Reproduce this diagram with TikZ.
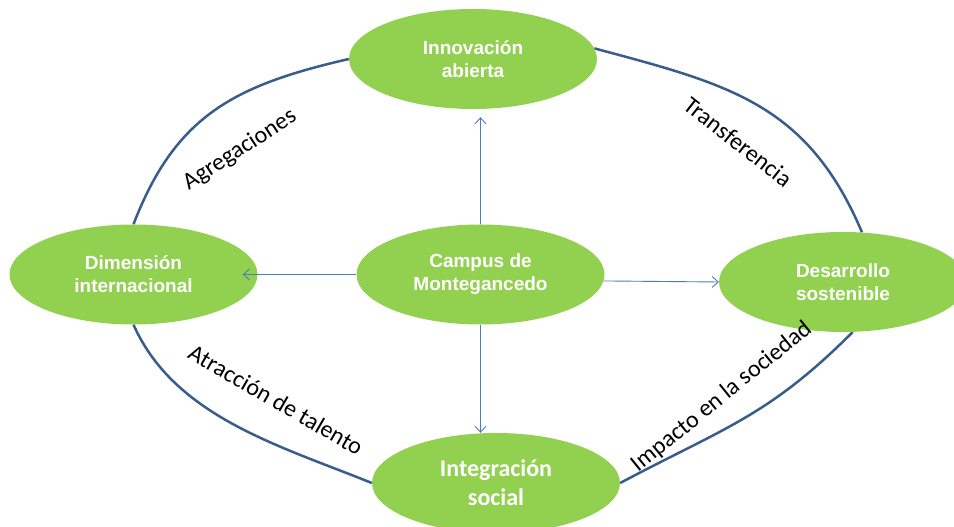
\documentclass[tikz,border=0pt]{standalone}
\usepackage{fontspec}
\setmainfont{Liberation Sans}
\newfontfamily\calibrifont{Carlito}
\usepackage{tikz}
\usepackage{xcolor}
\usetikzlibrary{arrows.meta}
\usetikzlibrary{shapes,backgrounds}
\definecolor{leafgreen}{HTML}{92D050}
\definecolor{ringblue}{HTML}{385D8A}
\definecolor{linkblue}{HTML}{4A7EBB}

\begin{document}
\begin{tikzpicture}[x=1pt,y=1pt,>={Straight Barb[length=6pt,width=11pt]},
                    main node/.style={ellipse,fill=leafgreen,text=white,align=center,inner sep=0pt,
                      minimum width=248pt,minimum height=100pt,
                      font=\bfseries\fontsize{19}{22.8}\selectfont},
                    ring/.style={draw=ringblue,line width=2.5pt,looseness=1.1},
                    link/.style={->,draw=linkblue,line width=0.9pt},
                    theme/.style={font=\calibrifont\fontsize{24}{28}\selectfont}]

  \useasboundingbox (0,0) rectangle (954,527);

  \node[main node] (campus) at (480.5,252.5) {Campus de\\Montegancedo};
  \node[main node] (innov) [node distance=215.5pt,above of=campus,xshift=-7.5pt] {Innovación\\abierta};
  \node[main node] (dim) [node distance=347pt,left of=campus] {Dimensión\\internacional};
  \node[main node] (desarr) [node distance=362.5pt,right of=campus,yshift=-7.5pt] {Desarrollo\\sostenible};
  \node[main node] (integ) [node distance=208.5pt,below of=campus,xshift=15.5pt,
                           font=\calibrifont\bfseries\fontsize{24}{28.8}\selectfont] {Integración\\social};

  % outer ring
  \begin{scope}[on background layer]
    \draw[ring] (dim.north) to[out=69,in=193] (innov.west);
    \draw[ring] (innov.5) to[out=-15,in=113] (desarr.69);
    \draw[ring] (desarr.-79) to[out=225,in=28] (integ.east);
    \draw[ring,looseness=0.9] (integ.west) to[out=158,in=294] (dim.south);
  \end{scope}

  \draw[link,shorten >=8pt] (campus) -- (campus |- innov.south);
  \draw[link,shorten >=-15pt] (campus) -- (dim.east);
  \draw[link] (campus.-3) -- (desarr.west);
  \draw[link] (campus) -- (campus |- integ.north);

  \node[theme,rotate=33] (agreg) at (240,377) {Agregaciones};
  \node[theme,rotate=-38] (transf) at (738,385) {Transferencia};
  \node[theme,rotate=-30] (atrac) at (276,127) {Atracción de talento};
  \node[theme,rotate=39] (impacto) at (722,130) {Impacto en la sociedad};
\end{tikzpicture}
\end{document}
